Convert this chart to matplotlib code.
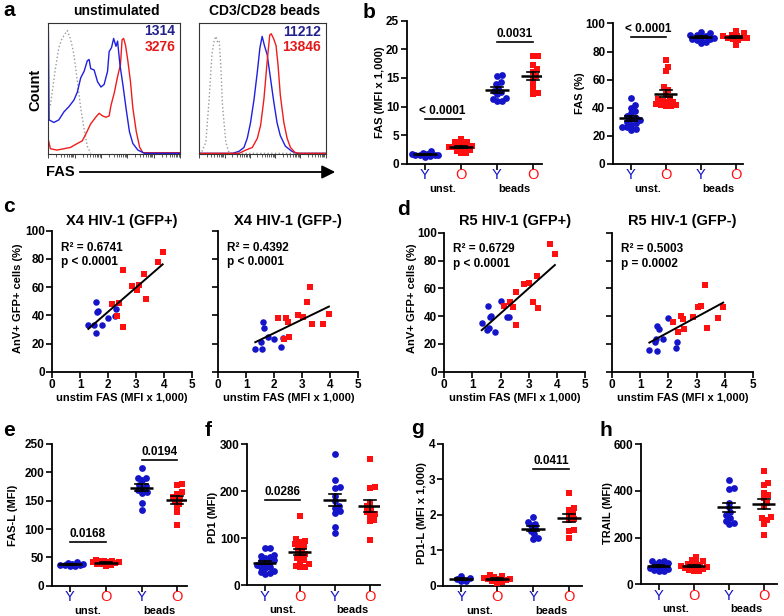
import matplotlib
matplotlib.use('Agg')
import matplotlib.pyplot as plt
import numpy as np

plt.rcParams['font.family'] = ['Liberation Sans', 'DejaVu Sans']
plt.rcParams['font.weight'] = 'bold'

BLUE = '#1414c8'
RED = '#ff1010'
NAVY = '#22228c'

# ---------------- data ----------------
# panel a histograms: x = log10 fluorescence position, y = % of max
hist_unst_iso_x = [0.08, 0.27, 0.40, 0.52, 0.72, 0.84, 0.97, 1.10, 1.23, 1.36, 1.48, 1.61]
hist_unst_iso_y = [37, 65, 81, 88, 94, 88, 76, 56, 35, 19, 6, 0.5]
hist_unst_Y_x = [0.0, 0.03, 0.21, 0.40, 0.59, 0.78, 0.97, 1.10, 1.23, 1.36, 1.48, 1.55, 1.61, 1.74, 1.87,
                 2.00, 2.12, 2.25, 2.31, 2.40, 2.48, 2.57, 2.63, 2.72, 2.83, 2.95, 3.08, 3.21, 3.40, 3.66, 5.0]
hist_unst_Y_y = [100, 26, 24, 26, 32, 36, 41, 47, 58, 63, 71, 72, 65, 64, 55,
                 51, 53, 63, 78, 81, 88, 82, 86, 68, 53, 35, 17, 8, 3, 0.5, 0.5]
hist_unst_O_x = [0.0, 0.08, 0.33, 0.59, 0.84, 1.10, 1.29, 1.42, 1.61, 1.80, 1.93, 2.06, 2.19, 2.31, 2.38,
                 2.51, 2.63, 2.74, 2.80, 2.86, 2.93, 3.02, 3.12, 3.21, 3.34, 3.47, 3.59, 5.0]
hist_unst_O_y = [11, 4, 3, 4, 5, 8, 10, 15, 23, 28, 31, 29, 28, 29, 37,
                 47, 59, 68, 87, 88, 83, 71, 55, 35, 17, 5, 1, 1]
hist_bead_iso_x = [0.0, 0.07, 0.26, 0.39, 0.50, 0.59, 0.66, 0.72, 0.79, 0.85, 0.92, 1.05, 1.18, 1.31, 5.0]
hist_bead_iso_y = [0.5, 0.5, 9, 42, 76, 87, 90, 86, 87, 68, 37, 9, 1, 0.5, 0.5]
hist_bead_Y_x = [0.0, 1.31, 1.57, 1.77, 1.90, 2.03, 2.17, 2.30, 2.40, 2.49, 2.58, 2.69, 2.82, 2.95,
                 3.08, 3.21, 3.41, 3.67, 3.87, 5.0]
hist_bead_Y_y = [0.5, 0.5, 2, 5, 12, 24, 42, 63, 81, 90, 83, 76, 58, 40, 24, 14, 6, 2, 0.5, 0.5]
hist_bead_O_x = [0.0, 1.57, 1.84, 2.10, 2.30, 2.43, 2.56, 2.69, 2.79, 2.85, 2.95, 3.04, 3.12, 3.21,
                 3.35, 3.48, 3.61, 3.80, 4.00, 5.0]
hist_bead_O_y = [0.5, 0.5, 3, 5, 12, 22, 42, 71, 91, 92, 88, 83, 68, 45, 24, 12, 5, 1, 0.5, 0.5]
mfi_unst = ['1314', '3276']
mfi_beads = ['11212', '13846']

# panel b
fas_mfi = {
    'Y_unst': [1.3, 1.4, 1.5, 1.6, 1.6, 1.7, 1.8, 2.0, 2.2, 1.5],
    'O_unst': [4.4, 3.9, 3.8, 3.5, 3.2, 3.0, 2.9, 2.7, 2.5, 2.3, 2.0, 1.9, 3.3, 2.8],
    'Y_beads': [15.5, 15.4, 14.2, 14.0, 12.8, 12.5, 12.2, 11.5, 11.0, 11.0, 11.3, 13.3],
    'O_beads': [18.9, 18.8, 17.3, 16.5, 16.0, 15.4, 14.8, 13.9, 13.0, 12.2, 12.3],
}
fas_pct = {
    'Y_unst': [47, 42, 40, 38, 36, 34, 33, 32, 31, 30, 29, 28, 26, 26, 25, 24],
    'O_unst': [74, 69, 66, 55, 53, 50, 47, 45, 44, 43, 42, 42, 41, 41, 44, 46],
    'Y_beads': [94, 93, 92, 91, 90, 90, 89, 88, 87, 86, 89, 92],
    'O_beads': [95, 93, 92, 91, 90, 90, 89, 88, 85, 91, 90],
}
# panels c, d (x = unstim FAS MFI x1000, y = AnV+ GFP+ %)
x4p_Y_x = [1.29, 1.51, 1.56, 1.57, 1.61, 1.65, 1.77, 1.99, 2.25, 2.28]
x4p_Y_y = [33.1, 33.1, 49.6, 27.2, 42.1, 43.0, 33.1, 37.8, 39.5, 44.2]
x4p_O_x = [2.13, 2.39, 2.31, 2.52, 2.52, 2.85, 3.03, 3.12, 3.29, 3.34, 3.77, 3.95]
x4p_O_y = [47.8, 48.5, 39.7, 71.9, 31.9, 61.0, 57.9, 61.5, 69.5, 51.3, 78.0, 84.6]
x4n_Y_x = [1.32, 1.53, 1.56, 1.59, 1.64, 1.79, 2.00, 2.25, 2.31]
x4n_Y_y = [16.1, 21.3, 16.1, 35.5, 30.7, 24.8, 23.2, 17.7, 23.6]
x4n_O_x = [2.13, 2.33, 2.42, 2.49, 2.51, 2.85, 3.03, 3.15, 3.29, 3.35, 3.74, 3.95]
x4n_O_y = [38.3, 23.2, 37.8, 35.5, 24.8, 40.2, 39.0, 49.2, 60.0, 33.6, 33.6, 40.9]
r5p_Y_x = [1.33, 1.54, 1.53, 1.58, 1.62, 1.66, 1.81, 2.00, 2.24, 2.30]
r5p_Y_y = [34.8, 47.5, 30.0, 31.2, 39.0, 40.0, 28.8, 50.8, 39.0, 39.0]
r5p_O_x = [2.13, 2.33, 2.43, 2.54, 2.54, 2.84, 3.02, 3.14, 3.28, 3.34, 3.76, 3.93]
r5p_O_y = [47.5, 50.4, 46.8, 57.6, 33.6, 62.8, 63.5, 50.4, 68.8, 46.0, 91.8, 84.4]
r5n_Y_x = [1.32, 1.52, 1.54, 1.58, 1.59, 1.65, 1.79, 2.00, 2.26, 2.32]
r5n_Y_y = [15.6, 21.1, 23.5, 14.9, 32.9, 30.5, 23.5, 38.4, 16.8, 21.6]
r5n_O_x = [2.15, 2.35, 2.43, 2.53, 2.55, 2.86, 3.04, 3.16, 3.30, 3.36, 3.78, 3.95]
r5n_O_y = [36.0, 28.3, 40.0, 37.6, 30.5, 39.6, 46.8, 47.2, 62.4, 31.2, 38.4, 46.3]
stats_c = [('R\u00b2 = 0.6741', 'p < 0.0001'), ('R\u00b2 = 0.4392', 'p < 0.0001')]
stats_d = [('R\u00b2 = 0.6729', 'p < 0.0001'), ('R\u00b2 = 0.5003', 'p = 0.0002')]

# panels e-h
fasl = {
    'Y_unst': [42, 40, 38, 37, 36, 35, 34, 37, 39],
    'O_unst': [46, 44, 43, 42, 41, 40, 39, 38, 36, 34, 41, 43],
    'Y_beads': [208, 190, 190, 186, 178, 176, 172, 168, 166, 164, 146, 134],
    'O_beads': [179, 178, 165, 162, 157, 153, 150, 145, 138, 130, 107],
}
pd1 = {
    'Y_unst': [80, 80, 64, 62, 60, 58, 54, 52, 50, 48, 44, 40, 38, 36, 30, 28, 24, 26],
    'O_unst': [148, 98, 95, 92, 88, 84, 80, 75, 70, 66, 62, 58, 54, 50, 45, 42, 40, 38],
    'Y_beads': [280, 225, 210, 207, 180, 165, 158, 155, 125, 111, 190, 170],
    'O_beads': [270, 210, 208, 175, 168, 157, 150, 140, 136, 96, 162, 152],
}
pd1l = {
    'Y_unst': [0.28, 0.22, 0.18, 0.14, 0.12],
    'O_unst': [0.30, 0.28, 0.25, 0.22, 0.20, 0.18, 0.15, 0.12, 0.10, 0.08, 0.20],
    'Y_beads': [1.95, 1.80, 1.75, 1.62, 1.55, 1.45, 1.35, 1.33, 1.70],
    'O_beads': [2.61, 2.18, 2.14, 2.05, 2.00, 1.87, 1.85, 1.57, 1.55, 1.34],
}
trail = {
    'Y_unst': [100, 98, 96, 90, 85, 78, 72, 66, 62, 58, 56, 75],
    'O_unst': [115, 105, 98, 92, 86, 80, 76, 72, 70, 66, 62, 58, 55, 78, 84],
    'Y_beads': [445, 412, 410, 350, 330, 310, 298, 285, 272, 262, 258],
    'O_beads': [486, 433, 425, 390, 382, 370, 350, 335, 287, 283, 276, 260, 212],
}
group_keys = ['Y_unst', 'O_unst', 'Y_beads', 'O_beads']
cat_labels = ['Y', 'O', 'Y', 'O']
stim_labels = ['unst.', 'beads']

# ---------------- figure ----------------
W, H = 784, 616
fig = plt.figure(figsize=(W / 100, H / 100), dpi=100)


def add_ax(x0, y0, x1, y1):
    return fig.add_axes([x0 / W, 1 - y1 / H, (x1 - x0) / W, (y1 - y0) / H])


def ftext(x, y, s, **kw):
    fig.text(x / W, 1 - y / H, s, **kw)


def letter(x, y, s):
    ftext(x, y, s, fontsize=15, fontweight='bold', ha='center', va='center')


# ---- panel a ----
def hist_ax(box, curves, labels):
    ax = add_ax(*box)
    for (xs, ys, col, ls, lw) in curves:
        ax.plot(xs, ys, color=col, ls=ls, lw=lw)
    ax.set_xlim(0, 5)
    ax.set_ylim(0, 100)
    ax.set_yticks([])
    major = np.arange(0, 6)
    minor = np.concatenate([np.log10(np.arange(2, 10)) + d for d in range(5)])
    ax.set_xticks(major)
    ax.set_xticks(minor, minor=True)
    ax.set_xticklabels([])
    ax.tick_params(axis='x', which='major', direction='out', length=3, width=0.7, color='#444444')
    ax.tick_params(axis='x', which='minor', direction='out', length=1.8, width=0.6, color='#444444')
    for sp in ax.spines.values():
        sp.set_linewidth(0.8)
        sp.set_color('#333333')
    ax.text(0.965, 0.935, labels[0], transform=ax.transAxes, ha='right', va='center',
            color=NAVY, fontsize=10, fontweight='bold')
    ax.text(0.965, 0.815, labels[1], transform=ax.transAxes, ha='right', va='center',
            color='#e41a1a', fontsize=10, fontweight='bold')
    return ax


hist_ax((48.3, 22.7, 180, 154),
        [(hist_unst_iso_x, hist_unst_iso_y, '#9a9a9a', ':', 1.0),
         (hist_unst_O_x, hist_unst_O_y, '#ee1c1c', '-', 1.0),
         (hist_unst_Y_x, hist_unst_Y_y, '#1f1fe0', '-', 1.0)], mfi_unst)
hist_ax((199.3, 23.3, 325.5, 154),
        [(hist_bead_iso_x, hist_bead_iso_y, '#9a9a9a', ':', 1.0),
         (hist_bead_Y_x, hist_bead_Y_y, '#1f1fe0', '-', 1.0),
         (hist_bead_O_x, hist_bead_O_y, '#ee1c1c', '-', 1.0)], mfi_beads)
ftext(116, 11, 'unstimulated', fontsize=10, fontweight='bold', ha='center', va='center')
ftext(265, 11, 'CD3/CD28 beads', fontsize=10, fontweight='bold', ha='center', va='center')
ftext(35, 90, 'Count', fontsize=10.5, fontweight='bold', ha='center', va='center', rotation=90)
ftext(60, 172, 'FAS', fontsize=10.5, fontweight='bold', ha='center', va='center')
fig.patches.append(matplotlib.patches.FancyArrowPatch(
    (77 / W, 1 - 172 / H), (338 / W, 1 - 172 / H), transform=fig.transFigure,
    arrowstyle='-|>,head_length=5,head_width=2.5', color='k', lw=1.3, mutation_scale=1.6))
letter(9, 11, 'a')


# ---- dot plots ----
def swarm(vals, py, px, d=5.8, maxw=13.0):
    vals = np.asarray(vals, float)
    order = np.argsort(vals)
    placed = []
    offs = np.zeros(len(vals))
    steps = [0.0]
    k = 1
    while k * 1.0 <= maxw:
        steps += [k * 1.0, -k * 1.0]
        k += 1
    thr = d * 0.75
    for i in order:
        y = vals[i] * py
        best, bestd = 0.0, -1
        chosen = None
        for s in steps:
            if not placed:
                chosen = s
                break
            md = min(np.hypot(s - ox, y - oy) for ox, oy in placed)
            if md >= thr:
                chosen = s
                break
            if md > bestd:
                best, bestd = s, md
        if chosen is None:
            chosen = best
        placed.append((chosen, y))
        offs[i] = chosen / px
    return offs


def dotplot(box, data, ylim, yticks, xlim, sigs, ylabel, ylabel_xy):
    x0, y0, x1, y1 = box
    ax = add_ax(*box)
    py = (y1 - y0) / (ylim[1] - ylim[0])
    px = (x1 - x0) / (xlim[1] - xlim[0])
    for i, key in enumerate(group_keys):
        vals = np.asarray(data[key], float)
        off = swarm(vals, py, px)
        if i % 2 == 0:
            ax.scatter(i + off, vals, s=24, marker='o', color=BLUE, lw=0, zorder=3, clip_on=False)
        else:
            ax.scatter(i + off, vals, s=21, marker='s', color=RED, lw=0, zorder=3, clip_on=False)
        m = vals.mean()
        se = vals.std(ddof=1) / np.sqrt(len(vals))
        ax.plot([i - 0.33, i + 0.33], [m, m], color='k', lw=1.8, zorder=6, solid_capstyle='butt')
        ax.plot([i, i], [m - se, m + se], color='k', lw=1.2, zorder=6)
        for yy in (m - se, m + se):
            ax.plot([i - 0.17, i + 0.17], [yy, yy], color='k', lw=1.2, zorder=6)
    ax.set_xlim(*xlim)
    ax.set_ylim(*ylim)
    ax.set_yticks(yticks)
    ax.set_yticklabels([('%g' % t) for t in yticks], fontsize=8.5, fontweight='bold')
    ax.set_xticks(range(4))
    ax.set_xticklabels([])
    ax.tick_params(direction='out', length=4, width=1.2, pad=1.5)
    for s in ('top', 'right'):
        ax.spines[s].set_visible(False)
    for s in ('left', 'bottom'):
        ax.spines[s].set_linewidth(1.3)
    h = y1 - y0
    for i, lab in enumerate(cat_labels):
        ax.text(i, -11.5 / h, lab, transform=ax.get_xaxis_transform(), ha='center', va='center',
                fontsize=10.5, fontweight='normal', color=BLUE if lab == 'Y' else RED)
    for j, lab in enumerate(stim_labels):
        ax.text(2 * j + 0.5, -25 / h, lab, transform=ax.get_xaxis_transform(), ha='center',
                va='center', fontsize=8, fontweight='bold')
    for (a, b, yv, txt) in sigs:
        ax.plot([a, b], [yv, yv], color='k', lw=1.2)
        ax.annotate(txt, ((a + b) / 2, yv), xytext=(0, 1.5), textcoords='offset points',
                    ha='center', va='bottom', fontsize=8.5, fontweight='bold')
    ftext(ylabel_xy[0], ylabel_xy[1], ylabel, rotation=90, ha='center', va='center',
          fontsize=8, fontweight='bold')
    return ax


dotplot((406.7, 20.5, 541.7, 164), fas_mfi, (0, 25), [0, 5, 10, 15, 20, 25], (-0.5, 3.25),
        [(0, 1, 7.8, '< 0.0001'), (2, 3, 21.3, '0.0031')], 'FAS (MFI x 1,000)', (380, 92))
dotplot((613, 23.5, 743, 164), fas_pct, (0, 100), [0, 20, 40, 60, 80, 100], (-0.5, 3.2),
        [(0, 1, 90.5, '< 0.0001')], 'FAS (%)', (580, 93))
letter(369, 12, 'b')

dotplot((52, 444, 187, 585.7), fasl, (0, 250), [0, 50, 100, 150, 200, 250], (-0.5, 3.27),
        [(0, 1, 77, '0.0168'), (2, 3, 222, '0.0194')], 'FAS-L (MFI)', (13, 515))
dotplot((247.3, 444.5, 380, 585.3), pd1, (0, 300), [0, 100, 200, 300], (-0.5, 3.29),
        [(0, 1, 181, '0.0286')], 'PD1 (MFI)', (213, 517))
dotplot((443.3, 444, 581.7, 585.7), pd1l, (0, 4), [0, 1, 2, 3, 4], (-0.5, 3.35),
        [(2, 3, 3.29, '0.0411')], 'PD1-L (MFI x 1,000)', (422, 513))
dotplot((641, 444.3, 776.7, 584.3), trail, (0, 600), [0, 200, 400, 600], (-0.5, 3.37),
        [], 'TRAIL (MFI)', (608, 513))
letter(9, 431, 'e')
letter(208, 430, 'f')
letter(417, 428, 'g')
letter(606, 430, 'h')


# ---- scatter panels ----
def scat(box, xb, yb, xr, yr, title, stats, ylab):
    x0, y0, x1, y1 = box
    ax = add_ax(*box)
    ax.scatter(xb, yb, s=22, marker='o', color=BLUE, lw=0, zorder=3)
    ax.scatter(xr, yr, s=20, marker='s', color=RED, lw=0, zorder=3)
    xa = np.concatenate([xb, xr])
    ya = np.concatenate([yb, yr])
    k, c = np.polyfit(xa, ya, 1)
    xx = np.array([xa.min(), xa.max()])
    ax.plot(xx, k * xx + c, color='k', lw=1.4, zorder=4)
    ax.set_xlim(0, 5)
    ax.set_ylim(0, 100)
    ax.set_xticks(range(6))
    ax.set_yticks(range(0, 101, 20))
    ax.set_xticklabels([str(t) for t in range(6)], fontsize=8.5, fontweight='bold')
    if ylab:
        ax.set_yticklabels([str(t) for t in range(0, 101, 20)], fontsize=8.5, fontweight='bold')
    else:
        ax.set_yticklabels([])
    ax.tick_params(direction='out', length=4, width=1.2, pad=1.5)
    for s in ('top', 'right'):
        ax.spines[s].set_visible(False)
    for s in ('left', 'bottom'):
        ax.spines[s].set_linewidth(1.3)
    ax.text(0.06, 0.88, stats[0], transform=ax.transAxes, ha='left', va='center',
            fontsize=8.5, fontweight='bold')
    ax.text(0.06, 0.775, stats[1], transform=ax.transAxes, ha='left', va='center',
            fontsize=8.5, fontweight='bold')
    ftext((x0 + x1) / 2, 221, title, ha='center', va='center', fontsize=10.5, fontweight='bold')
    ftext((x0 + x1) / 2, 398, 'unstim FAS (MFI x 1,000)', ha='center', va='center',
          fontsize=8, fontweight='bold')
    return ax


scat((52.3, 230.7, 192, 371.7), x4p_Y_x, x4p_Y_y, x4p_O_x, x4p_O_y, 'X4 HIV-1 (GFP+)', stats_c[0], True)
scat((218.3, 230.7, 358.3, 371.7), x4n_Y_x, x4n_Y_y, x4n_O_x, x4n_O_y, 'X4 HIV-1 (GFP-)', stats_c[1], False)
scat((444.3, 232.7, 585, 371.7), r5p_Y_x, r5p_Y_y, r5p_O_x, r5p_O_y, 'R5 HIV-1 (GFP+)', stats_d[0], True)
scat((612.3, 232.7, 752.7, 371.7), r5n_Y_x, r5n_Y_y, r5n_O_x, r5n_O_y, 'R5 HIV-1 (GFP-)', stats_d[1], False)
ftext(18, 298, 'AnV+ GFP+ cells (%)', rotation=90, ha='center', va='center', fontsize=8, fontweight='bold')
ftext(412, 298, 'AnV+ GFP+ cells (%)', rotation=90, ha='center', va='center', fontsize=8, fontweight='bold')
letter(9, 207, 'c')
letter(404, 210, 'd')

fig.savefig('out.png', dpi=100)
